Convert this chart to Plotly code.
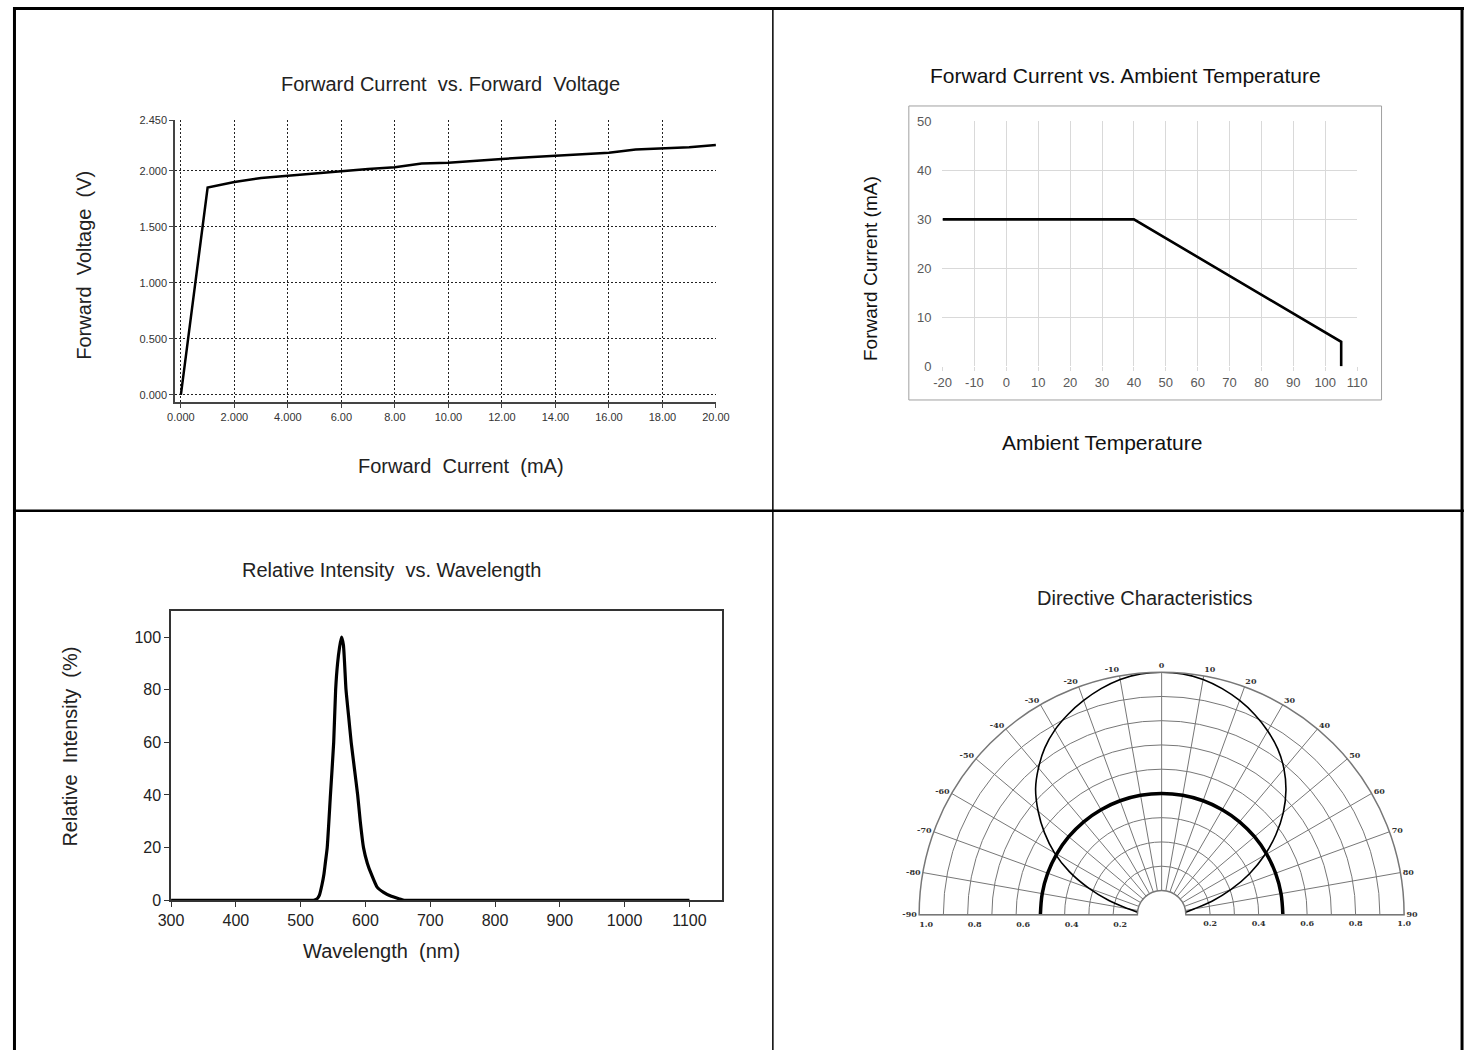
import plotly.graph_objects as go

W, H = 1478, 1059

# ---------------- data ----------------
# Panel 1: Forward Voltage vs Forward Current
if_ma = [0, 1, 2, 3, 4, 5, 6, 7, 8, 9, 10, 11, 12, 13, 14, 15, 16, 17, 18, 19, 20]
vf_v = [0.0, 1.85, 1.90, 1.935, 1.955, 1.975, 2.0, 2.015, 2.03, 2.065, 2.07, 2.09, 2.105,
        2.12, 2.135, 2.15, 2.16, 2.19, 2.20, 2.21, 2.23]
p1_xticks = [0, 2, 4, 6, 8, 10, 12, 14, 16, 18, 20]
p1_xlabels = ["0.000", "2.000", "4.000", "6.00", "8.00", "10.00", "12.00", "14.00", "16.00", "18.00", "20.00"]
p1_yticks = [0, 0.5, 1.0, 1.5, 2.0, 2.45]
p1_ylabels = ["0.000", "0.500", "1.000", "1.500", "2.000", "2.450"]

# Panel 2: Forward Current derating vs Ambient Temperature
temp_c = [-20, 40, 105, 105]
if_derate = [30, 30, 5, 0]
p2_xticks = [-20, -10, 0, 10, 20, 30, 40, 50, 60, 70, 80, 90, 100, 110]
p2_xlabels = ["-20", "-10", "0", "10", "20", "30", "40", "50", "60", "70", "80", "90", "100", "110"]
p2_yticks = [0, 10, 20, 30, 40, 50]

# Panel 3: Relative intensity spectrum
wl_nm = [300, 400, 500, 520, 525, 529, 533, 536, 538, 541, 546, 551, 554, 557, 560, 563,
         566, 570, 574, 578, 583, 588, 592, 597, 603, 609, 618, 628, 640, 653, 660, 700,
         800, 900, 1000, 1100]
rel_int = [0, 0, 0, 0, 0.5, 2, 6, 10, 14, 20, 40, 60, 80, 90, 96, 100,
           97, 80, 70, 60, 50, 40, 30, 20, 14, 10, 5, 3, 1.5, 0.5, 0, 0,
           0, 0, 0, 0]
p3_yticks = [0, 20, 40, 60, 80, 100]

# Panel 4: Directive characteristics
ang_deg = [-84, -80, -75, -70, -65, -60, -55, -50, -45, -40, -35, -30, -25, -20, -15, -10, -5, 0,
           5, 10, 15, 20, 25, 30, 35, 40, 45, 50, 55, 60, 65, 70, 75, 80, 84]
rel_lum = [0.10, 0.14, 0.225, 0.32, 0.42, 0.51, 0.59, 0.665, 0.735, 0.79, 0.84, 0.88, 0.912, 0.94, 0.965, 0.985, 0.997, 1.0,
           0.997, 0.985, 0.965, 0.94, 0.91, 0.875, 0.835, 0.785, 0.725, 0.655, 0.575, 0.49, 0.40, 0.305, 0.215, 0.135, 0.10]
ang_ref = [-90, -80, -70, -60, -50, -40, -30, -20, -10, 0, 10, 20, 30, 40, 50, 60, 70, 80, 90]
r_ref = [0.5] * len(ang_ref)
ang_ticks = list(range(-90, 91, 10))
ang_labels = [str(a) for a in ang_ticks]
rad_ticks = [0.1, 0.2, 0.3, 0.4, 0.5, 0.6, 0.7, 0.8, 0.9, 1.0]
rad_labels = ["", "0.2", "", "0.4", "", "0.6", "", "0.8", "", "1.0"]

# ---------------- helpers ----------------
def px(x):
    return x / W

def py(y):
    return 1 - y / H

NARROW = "Liberation Sans Narrow, Arial Narrow, Liberation Sans, Arial, sans-serif"
ARIAL = "Liberation Sans, Arial, sans-serif"
POLFONT = dict(family="DejaVu Serif, serif", size=8, color="#333333", weight="bold")

fig = go.Figure()

# Panel 1
fig.add_trace(go.Scatter(x=if_ma, y=vf_v, mode="lines", line=dict(color="black", width=2.5),
                         xaxis="x", yaxis="y", showlegend=False, hoverinfo="skip"))
# Panel 2
fig.add_trace(go.Scatter(x=temp_c, y=if_derate, mode="lines", line=dict(color="black", width=2.6),
                         xaxis="x2", yaxis="y2", showlegend=False, hoverinfo="skip"))
# Panel 3
fig.add_trace(go.Scatter(x=wl_nm, y=rel_int, mode="lines",
                         line=dict(color="black", width=3.2, shape="spline", smoothing=0.5),
                         xaxis="x3", yaxis="y3", showlegend=False, hoverinfo="skip"))
# Panel 4
fig.add_trace(go.Scatterpolar(theta=ang_ref, r=r_ref, mode="lines", line=dict(color="black", width=3.5, shape="spline"),
                              subplot="polar", showlegend=False, hoverinfo="skip"))
fig.add_trace(go.Scatterpolar(theta=ang_deg, r=rel_lum, mode="lines", line=dict(color="black", width=1.6, shape="spline"),
                              subplot="polar", showlegend=False, hoverinfo="skip"))
fig.add_trace(go.Scatterpolar(theta=[0], r=[0.5], mode="lines", line=dict(color="rgba(0,0,0,0)"),
                              subplot="polar2", showlegend=False, hoverinfo="skip"))

tickfont1 = dict(family=NARROW, size=11, color="#333333")

polar_dom_x = [px(923), px(1417)]
polar_dom_y = [py(922), py(675)]

fig.update_layout(
    autosize=True,
    margin=dict(l=0, r=0, t=0, b=0, pad=0),
    paper_bgcolor="white",
    plot_bgcolor="white",
    showlegend=False,
    # ---- panel 1 ----
    xaxis=dict(domain=[px(165), px(716)], range=[-0.22, 20], tickmode="array",
               tickvals=p1_xticks, ticktext=p1_xlabels, showgrid=True, gridcolor="#222222",
               griddash="2px,2px", gridwidth=1, zeroline=False, showline=True, linecolor="#444444",
               linewidth=1.5, ticks="outside", ticklen=4, tickcolor="#444444", tickfont=tickfont1,
               anchor="y"),
    yaxis=dict(domain=[py(401.5), py(115)], range=[-0.067, 2.45], tickmode="array",
               tickvals=p1_yticks, ticktext=p1_ylabels, showgrid=True, gridcolor="#222222",
               griddash="2px,2px", gridwidth=1, zeroline=False, showline=True, linecolor="#444444",
               linewidth=1.5, ticks="outside", ticklen=4, tickcolor="#444444", tickfont=tickfont1,
               anchor="x"),
    # ---- panel 2 ----
    xaxis2=dict(domain=[px(946.7), px(1369.3)], range=[-20.05, 110.05], tickmode="array",
                tickvals=p2_xticks, ticktext=p2_xlabels, showgrid=True, gridcolor="#d9d9d9", gridwidth=1,
                zeroline=False, showline=False, ticks="outside", ticklen=4, tickcolor="#d9d9d9",
                tickfont=dict(family=ARIAL, size=13, color="#595959"), anchor="y2"),
    yaxis2=dict(domain=[py(365), py(116)], range=[-0.05, 50.05], tickmode="array",
                tickvals=p2_yticks, showgrid=True, gridcolor="#d9d9d9", gridwidth=1,
                zeroline=False, showline=False, ticks="", ticklabelstandoff=10,
                tickfont=dict(family=ARIAL, size=13, color="#595959"), anchor="x2"),
    # ---- panel 3 ----
    xaxis3=dict(domain=[px(161), px(722)], range=[300, 1150], tickmode="linear",
                tick0=300, dtick=100, showgrid=False, zeroline=False, showline=True,
                mirror=True, linecolor="#333333", linewidth=1.5, ticks="outside", ticklen=5,
                tickcolor="#333333", tickfont=dict(family=ARIAL, size=16, color="#222222"),
                anchor="y3"),
    yaxis3=dict(domain=[py(907), py(613)], range=[0, 110], tickmode="array",
                tickvals=p3_yticks, showgrid=False, zeroline=False, showline=True,
                mirror=True, linecolor="#333333", linewidth=1.5, ticks="outside", ticklen=5,
                tickcolor="#333333", tickfont=dict(family=ARIAL, size=16, color="#222222"),
                anchor="x3"),
    # ---- panel 4 ----
    polar=dict(
        domain=dict(x=polar_dom_x, y=polar_dom_y),
        sector=[0, 180],
        hole=0.1,
        bgcolor="white",
        angularaxis=dict(rotation=90, direction="clockwise", tickmode="array",
                         tickvals=ang_ticks, ticktext=ang_labels, showgrid=True,
                         gridcolor="#777777", gridwidth=1.2, showline=True, linecolor="#777777",
                         linewidth=1.5, ticks="", tickfont=POLFONT),
        radialaxis=dict(range=[0.1, 1.0], tickmode="array", tickvals=rad_ticks, ticktext=rad_labels,
                        showgrid=True, gridcolor="#777777", gridwidth=1.2, showline=False,
                        ticks="outside", ticklen=1, tickcolor="rgba(0,0,0,0)", tickangle=180,
                        angle=180, side="counterclockwise", tickfont=POLFONT),
    ),
    polar2=dict(
        domain=dict(x=polar_dom_x, y=polar_dom_y),
        sector=[0, 180],
        hole=0.1,
        bgcolor="rgba(0,0,0,0)",
        angularaxis=dict(rotation=90, direction="clockwise", visible=False, showgrid=False),
        radialaxis=dict(range=[0.1, 1.0], tickmode="array", tickvals=rad_ticks, ticktext=rad_labels,
                        showgrid=False, showline=False, ticks="outside", ticklen=1,
                        tickcolor="rgba(0,0,0,0)", angle=0, side="clockwise", tickfont=POLFONT),
    ),
)

# ---- titles & axis titles ----
def ann(text, x, y, size, family=NARROW, angle=0, color="#222222"):
    fig.add_annotation(text=text, x=px(x), y=py(y), xref="paper", yref="paper",
                       showarrow=False, textangle=angle, xanchor="center", yanchor="middle",
                       font=dict(family=family, size=size, color=color))

ann("Forward Current  vs. Forward  Voltage", 446, 78, 20)
ann("Forward  Voltage  (V)", 72, 262, 20, angle=-90)
ann("Forward  Current  (mA)", 456, 466, 20)

ann("Forward Current vs. Ambient Temperature", 1133, 70, 21, family=ARIAL, color="#111111")
ann("Forward Current (mA)", 874, 266, 19, family=ARIAL, angle=-90, color="#111111")
ann("Ambient Temperature", 1109, 442, 21, family=ARIAL, color="#111111")

ann("Relative Intensity  vs. Wavelength", 386, 572, 20)
ann("Relative  Intensity  (%)", 58, 751, 20, angle=-90)
ann("Wavelength  (nm)", 375, 958, 20)

ann("Directive Characteristics", 1153, 600, 20)

# ---- table borders and panel-2 frame ----
def line(x0, y0, x1, y1, w, c="black"):
    fig.add_shape(type="line", xref="paper", yref="paper", x0=px(x0), y0=py(y0), x1=px(x1), y1=py(y1),
                  line=dict(color=c, width=w), layer="above")

line(0, 1.5, W, 1.5, 3)
line(1.5, 0, 1.5, H, 3)
line(1476, 0, 1476, H, 3)
line(774, 0, 774, H, 1.5)
line(0, 511.5, W, 511.5, 2.5)

fig.add_shape(type="rect", xref="paper", yref="paper", x0=px(912.5), y0=py(399), x1=px(1394), y1=py(100.5),
              line=dict(color="#a0a0a0", width=1), layer="below")

post = ("document.documentElement.style.margin='0';document.body.style.margin='0';"
        "document.body.style.padding='0';"
        "document.documentElement.style.overflow='hidden';document.body.style.overflow='hidden';")
fig.write_html("out.html", post_script=post, default_width="100vw", default_height="100vh",
               config={"displayModeBar": False, "responsive": True})
